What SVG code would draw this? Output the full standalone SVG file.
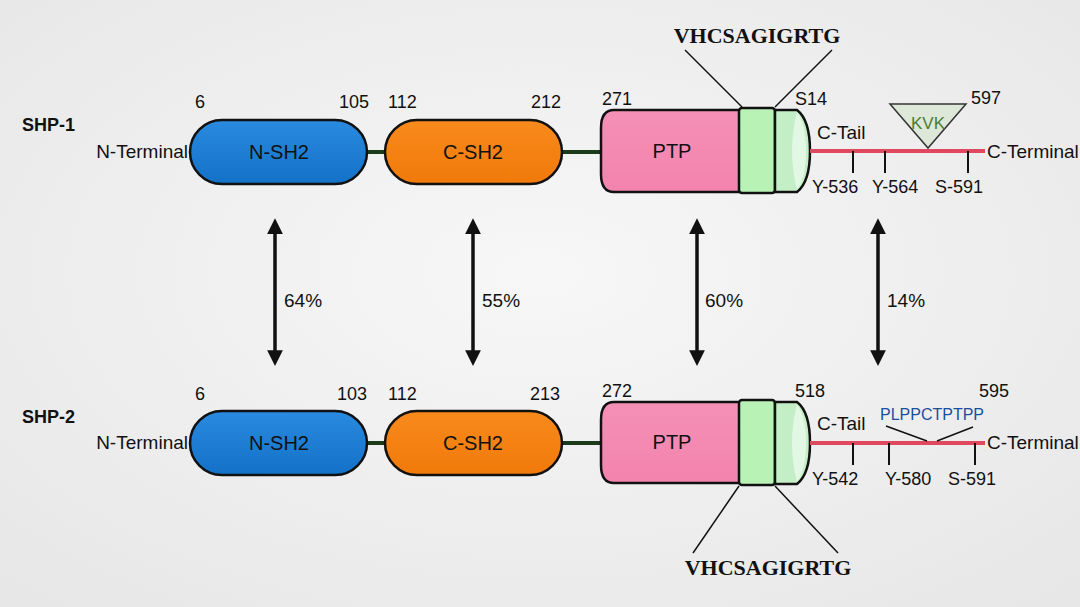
<svg xmlns="http://www.w3.org/2000/svg" width="1080" height="607" viewBox="0 0 1080 607">
<defs>
<radialGradient id="bg" cx="0.5" cy="0.45" r="0.75">
<stop offset="0" stop-color="#f7f7f7"/>
<stop offset="1" stop-color="#e6e6e6"/>
</radialGradient>
<linearGradient id="gBlue" x1="0" y1="0" x2="0" y2="1">
<stop offset="0" stop-color="#2a8ae0"/>
<stop offset="1" stop-color="#1372c8"/>
</linearGradient>
<linearGradient id="gOrange" x1="0" y1="0" x2="0" y2="1">
<stop offset="0" stop-color="#f88a1c"/>
<stop offset="1" stop-color="#f07a0a"/>
</linearGradient>
<linearGradient id="gPink" x1="0" y1="0" x2="0" y2="1">
<stop offset="0" stop-color="#f590b5"/>
<stop offset="1" stop-color="#f283ad"/>
</linearGradient>
<marker id="ah" viewBox="0 0 10 10" refX="5" refY="5" markerWidth="4.5" markerHeight="4.5" orient="auto-start-reverse">
<path d="M0,0 L10,5 L0,10 Z" fill="#111"/>
</marker>
<style>
.t{font-family:"Liberation Sans",Arial,sans-serif;font-size:19px;fill:#111}
.n{font-family:"Liberation Sans",Arial,sans-serif;font-size:18px;fill:#111}
.lbl{font-family:"Liberation Sans",Arial,sans-serif;font-size:18px;font-weight:bold;fill:#111}
.in{font-family:"Liberation Sans",Arial,sans-serif;font-size:20px;fill:#111;text-anchor:middle}
.seq{font-family:"Liberation Serif","Times New Roman",serif;font-size:22px;font-weight:bold;fill:#111;text-anchor:middle}
.dom{stroke:#111;stroke-width:2.5}
.link{stroke:#1c3a1c;stroke-width:4}
.tail{stroke:#e04860;stroke-width:4}
.tick{stroke:#111;stroke-width:2}
.thin{stroke:#111;stroke-width:1.5;fill:none}
.arr{stroke:#111;stroke-width:3.5;marker-start:url(#ah);marker-end:url(#ah)}
</style>
</defs>
<rect width="1080" height="607" fill="url(#bg)"/>

<g id="connectors">
<line class="arr" x1="275" y1="226" x2="275" y2="358"/>
<line class="arr" x1="473" y1="226" x2="473" y2="358"/>
<line class="arr" x1="697" y1="226" x2="697" y2="358"/>
<line class="arr" x1="878" y1="226" x2="878" y2="358"/>
<text class="t" x="284" y="307">64%</text>
<text class="t" x="482" y="307">55%</text>
<text class="t" x="705" y="307">60%</text>
<text class="t" x="887" y="307">14%</text>
</g>

<g id="shp1">
<text class="lbl" x="22" y="131">SHP-1</text>
<text class="t" x="188" y="158" text-anchor="end">N-Terminal</text>
<line class="link" x1="366" y1="152" x2="386" y2="152"/>
<line class="link" x1="561" y1="152" x2="601" y2="152"/>
<g id="shp1-nsh2">
<rect class="dom" x="190" y="120" width="177" height="64" rx="32" fill="url(#gBlue)"/>
<text class="in" x="279" y="159">N-SH2</text>
</g>
<g id="shp1-csh2">
<rect class="dom" x="385" y="120" width="177" height="64" rx="32" fill="url(#gOrange)"/>
<text class="in" x="473" y="159">C-SH2</text>
</g>
<g id="shp1-ptp">
<path class="dom" d="M740,110 H614 Q601,110 601,128 V174 Q601,192 614,192 H740 Z" fill="url(#gPink)"/>
<text class="in" x="672" y="158">PTP</text>
</g>
<g id="shp1-green">
<rect class="dom" x="739" y="108" width="36" height="85" rx="3" fill="#b8f2b4"/>
<path class="dom" d="M775,110 H797 Q810,120 810,151 Q810,182 797,192 H775 Z" fill="#c4efc6"/>
<path d="M797,112 Q806,125 806,151 Q806,177 797,190 Q792,170 792,151 Q792,132 797,112 Z" fill="#e3f8e4"/>
</g>
<text class="n" x="602" y="105">271</text>
<text class="n" x="795" y="105">S14</text>
<text class="n" x="195" y="108">6</text>
<text class="n" x="339" y="108">105</text>
<text class="n" x="388" y="108">112</text>
<text class="n" x="531" y="108">212</text>
<text class="seq" x="757" y="43">VHCSAGIGRTG</text>
<line class="thin" x1="685" y1="50" x2="742" y2="107"/>
<line class="thin" x1="832" y1="50" x2="775" y2="107"/>
<g id="shp1-ctail">
<line class="tail" x1="810" y1="151" x2="985" y2="151"/>
<line class="tick" x1="853" y1="151" x2="853" y2="173"/>
<line class="tick" x1="885" y1="151" x2="885" y2="173"/>
<line class="tick" x1="968" y1="151" x2="968" y2="173"/>
<text class="t" x="817" y="139">C-Tail</text>
<text class="t" x="987" y="158">C-Terminal</text>
<text class="n" x="812" y="193">Y-536</text>
<text class="n" x="872" y="193">Y-564</text>
<text class="n" x="935" y="193">S-591</text>
</g>
<g id="shp1-kvk">
<polygon points="890,104 966,104 928,148" fill="#dde8d8" stroke="#333" stroke-width="1.5"/>
<text x="928" y="129" text-anchor="middle" font-family="Liberation Sans,Arial,sans-serif" font-size="17" fill="#4a7d35">KVK</text>
<text class="n" x="971" y="104">597</text>
</g>
</g>

<g id="shp2">
<text class="lbl" x="22" y="423">SHP-2</text>
<text class="t" x="188" y="449" text-anchor="end">N-Terminal</text>
<line class="link" x1="366" y1="443" x2="386" y2="443"/>
<line class="link" x1="561" y1="443" x2="601" y2="443"/>
<g id="shp2-nsh2">
<rect class="dom" x="190" y="411" width="177" height="64" rx="32" fill="url(#gBlue)"/>
<text class="in" x="279" y="450">N-SH2</text>
</g>
<g id="shp2-csh2">
<rect class="dom" x="385" y="411" width="177" height="64" rx="32" fill="url(#gOrange)"/>
<text class="in" x="473" y="450">C-SH2</text>
</g>
<g id="shp2-ptp">
<path class="dom" d="M740,402 H614 Q601,402 601,420 V465 Q601,483 614,483 H740 Z" fill="url(#gPink)"/>
<text class="in" x="672" y="449">PTP</text>
</g>
<g id="shp2-green">
<rect class="dom" x="739" y="400" width="36" height="85" rx="3" fill="#b8f2b4"/>
<path class="dom" d="M775,402 H797 Q810,412 810,443 Q810,474 797,484 H775 Z" fill="#c4efc6"/>
<path d="M797,404 Q806,417 806,443 Q806,469 797,482 Q792,462 792,443 Q792,424 797,404 Z" fill="#e3f8e4"/>
</g>
<text class="n" x="602" y="397">272</text>
<text class="n" x="795" y="397">518</text>
<text class="n" x="195" y="400">6</text>
<text class="n" x="337" y="400">103</text>
<text class="n" x="388" y="400">112</text>
<text class="n" x="530" y="400">213</text>
<text class="seq" x="768" y="575">VHCSAGIGRTG</text>
<line class="thin" x1="739" y1="486" x2="693" y2="553"/>
<line class="thin" x1="775" y1="486" x2="838" y2="553"/>
<g id="shp2-ctail">
<line class="tail" x1="810" y1="443" x2="985" y2="443"/>
<line class="tick" x1="853" y1="443" x2="853" y2="465"/>
<line class="tick" x1="889" y1="443" x2="889" y2="465"/>
<line class="tick" x1="975" y1="443" x2="975" y2="465"/>
<text class="t" x="817" y="430">C-Tail</text>
<text class="t" x="987" y="449">C-Terminal</text>
<text class="n" x="812" y="485">Y-542</text>
<text class="n" x="885" y="485">Y-580</text>
<text class="n" x="948" y="485">S-591</text>
</g>
<g id="shp2-motif">
<text x="932" y="420" text-anchor="middle" font-family="Liberation Sans,Arial,sans-serif" font-size="16" fill="#1a4fa0">PLPPCTPTPP</text>
<line class="thin" x1="886" y1="426" x2="927" y2="441"/>
<line class="thin" x1="973" y1="427" x2="937" y2="441"/>
<text class="n" x="979" y="397">595</text>
</g>
</g>
</svg>
